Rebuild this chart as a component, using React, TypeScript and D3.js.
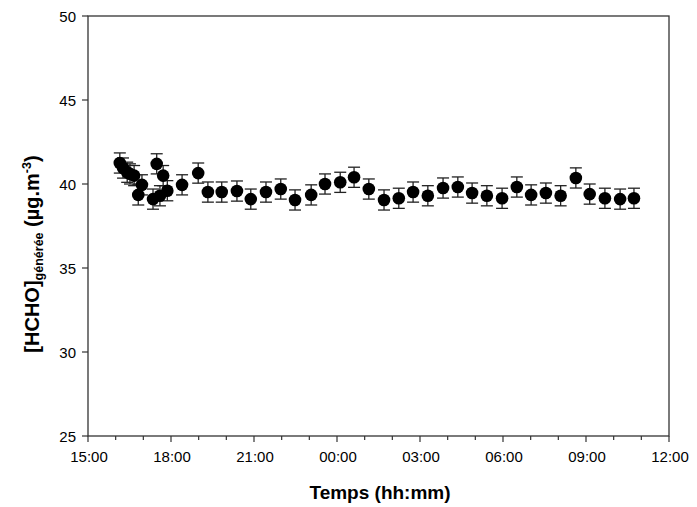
import React, { useEffect, useRef } from 'react';
import * as d3 from 'd3';

// sampling times (clock time, the series runs past midnight)
const times = [
  '16:09', '16:16', '16:25', '16:31', '16:40', '16:49', '16:57', '17:21', '17:29', '17:36',
  '17:43', '17:52', '18:24', '18:59', '19:20', '19:50', '20:23', '20:53', '21:26', '21:58',
  '22:29', '23:04', '23:34', '00:07', '00:37', '01:09', '01:42', '02:14', '02:45', '03:17',
  '03:50', '04:22', '04:53', '05:25', '05:58', '06:30', '07:01', '07:33', '08:05', '08:38',
  '09:08', '09:41', '10:14', '10:44',
];

// [HCHO] générée (µg.m-3)
const values = [
  41.25, 40.95, 40.7, 40.6, 40.5, 39.35, 39.95, 39.1, 41.2, 39.3,
  40.5, 39.6, 39.95, 40.65, 39.52, 39.52, 39.58, 39.1, 39.52, 39.7,
  39.05, 39.35, 40.0, 40.1, 40.4, 39.7, 39.05, 39.15, 39.52, 39.3,
  39.76, 39.82, 39.46, 39.3, 39.15, 39.82, 39.35, 39.46, 39.3, 40.36,
  39.4, 39.15, 39.1, 39.15,
];

const errorBar = 0.6;

const yTicks = [25, 30, 35, 40, 45, 50];
const xTickLabels = ['15:00', '18:00', '21:00', '00:00', '03:00', '06:00', '09:00', '12:00'];

// hours elapsed since 15:00 on day one
const toHours = (t: string) => {
  const [h, m] = t.split(':').map(Number);
  let hours = h + m / 60 - 15;
  if (hours < 0) hours += 24;
  return hours;
};

const App = () => {
  const ref = useRef<SVGSVGElement>(null);

  useEffect(() => {
    const svg = d3.select(ref.current);
    svg.selectAll('*').remove();

    const left = 88, right = 669, top = 16, bottom = 436;
    const font = 'Liberation Sans, Arial, sans-serif';
    const axisColor = '#333';

    const x = d3.scaleLinear().domain([0, 21]).range([left, right]);
    const y = d3.scaleLinear().domain([25, 50]).range([bottom, top]);

    const data = times.map((t, i) => ({ h: toHours(t), v: values[i] }));

    // frame
    svg.append('rect')
      .attr('x', left).attr('y', top)
      .attr('width', right - left).attr('height', bottom - top)
      .attr('fill', 'none').attr('stroke', axisColor).attr('stroke-width', 1.3);

    // y ticks and labels
    yTicks.forEach(v => {
      svg.append('line')
        .attr('x1', left - 6).attr('x2', left)
        .attr('y1', y(v)).attr('y2', y(v))
        .attr('stroke', axisColor).attr('stroke-width', 1.2);
      svg.append('text')
        .attr('x', 76).attr('y', y(v) + 5.5)
        .attr('text-anchor', 'end')
        .attr('font-family', font).attr('font-size', 15)
        .text(v);
    });

    // x ticks: every hour, labels every 3 hours
    d3.range(0, 22).forEach(h => {
      const major = h % 3 === 0;
      svg.append('line')
        .attr('x1', x(h)).attr('x2', x(h))
        .attr('y1', bottom).attr('y2', bottom + (major ? 6 : 4))
        .attr('stroke', axisColor).attr('stroke-width', 1.2);
    });
    xTickLabels.forEach((lab, i) => {
      svg.append('text')
        .attr('x', x(i * 3) + 1).attr('y', 462)
        .attr('text-anchor', 'middle')
        .attr('font-family', font).attr('font-size', 15)
        .text(lab);
    });

    // axis titles
    svg.append('text')
      .attr('x', 380).attr('y', 499)
      .attr('text-anchor', 'middle')
      .attr('font-family', font).attr('font-size', 19).attr('font-weight', 'bold')
      .text('Temps (hh:mm)');

    const yTitle = svg.append('text')
      .attr('transform', 'translate(39,254) rotate(-90)')
      .attr('text-anchor', 'middle')
      .attr('font-family', font).attr('font-size', 20).attr('font-weight', 'bold');
    yTitle.append('tspan').text('[HCHO]');
    yTitle.append('tspan').attr('font-size', 12.5).attr('dy', 4).text('générée');
    yTitle.append('tspan').attr('dy', -4).text(' (µg.m');
    yTitle.append('tspan').attr('font-size', 12.5).attr('dy', -8).text('-3');
    yTitle.append('tspan').attr('dy', 8).text(')');

    // error bars
    const eb = svg.append('g').attr('stroke', '#222').attr('stroke-width', 1.3);
    data.forEach(d => {
      const cx = x(d.h);
      eb.append('line')
        .attr('x1', cx).attr('x2', cx)
        .attr('y1', y(d.v - errorBar)).attr('y2', y(d.v + errorBar));
      [d.v - errorBar, d.v + errorBar].forEach(e => {
        eb.append('line')
          .attr('x1', cx - 6).attr('x2', cx + 6)
          .attr('y1', y(e)).attr('y2', y(e));
      });
    });

    // points
    svg.append('g')
      .selectAll('circle')
      .data(data)
      .join('circle')
      .attr('cx', d => x(d.h))
      .attr('cy', d => y(d.v))
      .attr('r', 6.3)
      .attr('fill', '#000');
  }, []);

  return (
    <svg ref={ref} width={697} height={507} style={{ position: 'absolute', left: 0, top: 0, background: '#fff' }} />
  );
};

export default App;
